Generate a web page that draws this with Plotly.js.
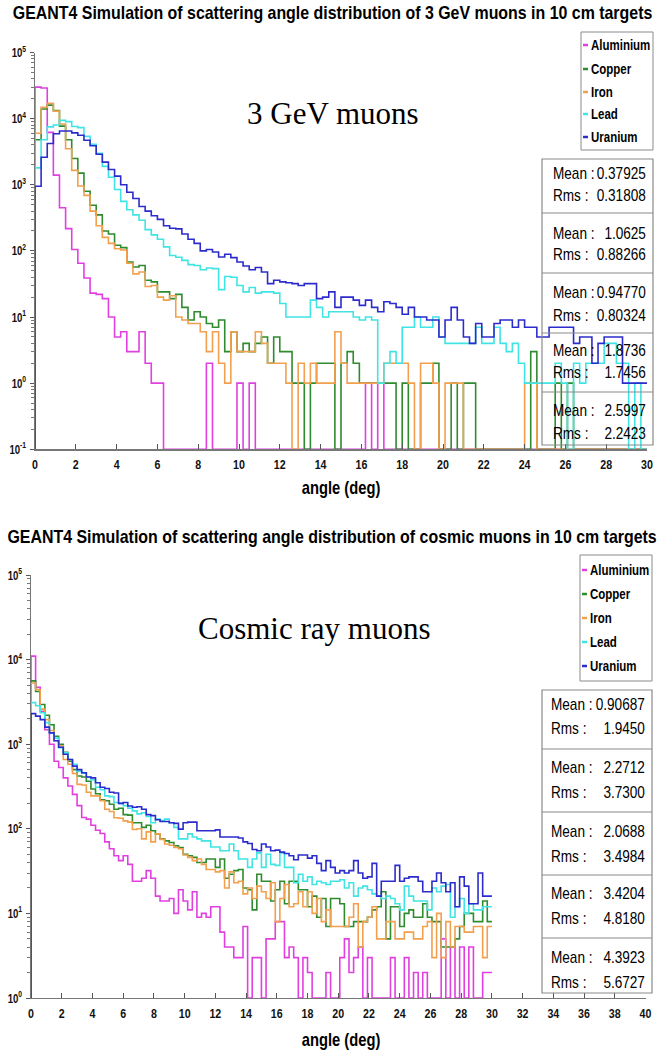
<!DOCTYPE html>
<html>
<head>
<meta charset="utf-8">
<script src="https://cdn.plot.ly/plotly-3.0.1.min.js"></script>
<style>
  html, body { margin: 0; padding: 0; background: #ffffff; }
  #chart { width: 664px; height: 1052px; }
</style>
</head>
<body>
<div id="chart"></div>
<script>
// ---- Histogram data: counts per 0.3 deg bin from 0 to 30 deg ----
const binWidth = 0.3;
const materials = ['Aluminium', 'Copper', 'Iron', 'Lead', 'Uranium'];
const materialColors = ['#e040e0', '#2e8b2e', '#f2a04e', '#40e4e4', '#2c2ccc'];

// 3 GeV muons
const gevAluminium = [
  30000, 29000, 6200, 1400, 450, 217, 105, 65, 39, 23,
  22, 19, 10, 5, 6, 3, 3, 6, 2, 1,
  1, 0, 0, 0, 0, 0, 0, 0, 2, 0,
  0, 0, 0, 1, 0, 1, 0, 0, 0, 0,
  0, 0, 0, 0, 0, 0, 0, 0, 0, 0,
  0, 0, 0, 0, 1, 0, 1, 0, 0, 0,
  0, 0, 0, 0, 0, 0, 0, 0, 0, 0,
  0, 0, 0, 0, 0, 0, 0, 0, 0, 0,
  0, 0, 0, 0, 0, 0, 0, 0, 0, 0,
  0, 0, 0, 0, 0, 0, 0, 0, 0, 0
];
const gevCopper = [
  4800, 14000, 16000, 13200, 7700, 4800, 2500, 1500, 800, 490,
  350, 200, 180, 122, 112, 68, 57, 60, 36, 34,
  24, 24, 19, 22, 14, 9, 12, 10, 8, 7,
  9, 3, 6, 3, 4, 3, 4, 5, 2, 5,
  3, 3, 1, 1, 0, 1, 2, 2, 2, 0,
  2, 3, 2, 1, 1, 1, 1, 1, 1, 0,
  1, 0, 0, 1, 1, 2, 0, 0, 1, 0,
  1, 1, 0, 0, 0, 0, 0, 0, 0, 0,
  0, 3, 0, 0, 0, 1, 0, 1, 0, 0,
  0, 0, 0, 0, 0, 0, 0, 0, 0, 0
];
const gevIron = [
  6000, 14800, 17000, 13000, 8300, 3500, 1650, 960, 690, 400,
  240, 160, 130, 108, 103, 65, 45, 48, 29, 30,
  20, 18, 21, 10, 9, 8, 8, 6, 3, 6,
  2, 1, 6, 3, 3, 3, 6, 4, 2, 2,
  2, 1, 0, 2, 1, 2, 1, 1, 1, 6,
  2, 1, 1, 1, 1, 1, 1, 2, 2, 2,
  2, 1, 0, 2, 2, 1, 0, 1, 1, 1,
  0, 0, 0, 0, 0, 0, 0, 0, 0, 0,
  1, 1, 0, 0, 0, 0, 0, 0, 0, 0,
  0, 0, 0, 0, 0, 0, 0, 0, 0, 0
];
const gevLead = [
  1800, 4800, 7500, 8000, 9400, 9000, 7600, 7300, 5400, 4100,
  3000, 1900, 1300, 850, 560, 420, 350, 290, 210, 175,
  150, 115, 85, 80, 72, 62, 60, 52, 55, 54,
  26, 41, 40, 30, 24, 28, 23, 24, 24, 23,
  16, 10, 10, 10, 10, 18, 14, 10, 12, 12,
  12, 12, 10, 9, 10, 9, 1, 2, 3, 2,
  7, 7, 10, 7, 7, 10, 5, 4, 4, 4,
  4, 4, 7, 4, 4, 7, 4, 3, 4, 2,
  1, 1, 1, 1, 1, 2, 1, 0, 2, 1,
  2, 2, 2, 4, 4, 2, 2, 0, 1, 0
];
const gevUranium = [
  950, 2600, 4200, 5900, 6500, 6500, 6100, 5600, 4700, 3900,
  2900, 2200, 1700, 1350, 1000, 770, 620, 470, 400, 340,
  300, 240, 220, 215, 180, 150, 130, 100, 105, 96,
  81, 89, 79, 68, 59, 52, 56, 48, 32, 36,
  34, 33, 32, 30, 32, 32, 19, 20, 24, 14,
  20, 20, 18, 15, 18, 14, 12, 17, 16, 14,
  11, 14, 10, 10, 9, 9, 5, 9, 14, 9,
  5, 4, 8, 5, 5, 8, 9, 9, 7, 9,
  7, 7, 5, 5, 7, 7, 7, 7, 4, 5,
  5, 2, 4, 5, 5, 5, 1, 1, 1, 1
];
const gevMean = ['0.37925', '1.0625', '0.94770', '1.8736', '2.5997'];
const gevRms = ['0.31808', '0.88266', '0.80324', '1.7456', '2.2423'];

// Cosmic ray muons
const cosmicAluminium = [
  11000, 4700, 2450, 1480, 1000, 630, 530, 400, 320, 255,
  188, 136, 130, 110, 96, 88, 70, 58, 48, 42,
  48, 38, 24, 24, 26, 32, 26, 16, 14, 14,
  15, 10, 19, 14, 11, 18, 9, 10, 9, 12,
  12, 6, 4, 4, 3, 3, 7, 0, 3, 3,
  0, 5, 5, 8, 8, 3, 4, 3, 0, 3,
  2, 0, 0, 0, 2, 0, 0, 3, 5, 2,
  3, 4, 0, 3, 0, 0, 0, 0, 3, 0,
  0, 3, 0, 2, 0, 2, 0, 0, 0, 5,
  0, 4, 0, 4, 0, 4, 0, 0, 2, 2
];
const cosmicCopper = [
  5600, 4200, 2950, 2200, 1700, 1240, 1000, 800, 630, 500,
  420, 410, 365, 295, 260, 220, 215, 195, 170, 175,
  147, 145, 118, 118, 104, 110, 95, 87, 76, 72,
  69, 63, 60, 50, 48, 46, 40, 40, 44, 44,
  35, 44, 26, 29, 32, 33, 20, 19, 11, 29,
  24, 24, 14, 19, 24, 13, 24, 24, 19, 19,
  12, 16, 9, 15, 7, 15, 15, 13, 7, 7,
  8, 8, 8, 9, 11, 12, 18, 5, 12, 12,
  7, 10, 11, 9, 9, 13, 9, 8, 8, 4,
  4, 4, 5, 7, 10, 10, 8, 8, 14, 8
];
const cosmicIron = [
  5300, 4400, 2600, 1950, 1450, 1100, 960, 660, 580, 450,
  335, 330, 270, 245, 245, 215, 170, 160, 135, 133,
  124, 120, 98, 100, 76, 92, 70, 87, 75, 66,
  64, 60, 58, 49, 46, 42, 44, 38, 33, 33,
  31, 32, 20, 31, 23, 24, 17, 20, 15, 21,
  18, 15, 23, 8, 15, 22, 12, 13, 18, 12,
  18, 10, 15, 8, 11, 7, 7, 7, 7, 9,
  13, 4, 8, 9, 12, 5, 5, 8, 8, 5,
  5, 6, 6, 5, 5, 7, 8, 3, 10, 3,
  8, 4, 7, 7, 6, 6, 7, 7, 3, 7
];
const cosmicLead = [
  3100, 2850, 2350, 1800, 1360, 1180, 910, 790, 660, 580,
  480, 455, 410, 380, 310, 290, 245, 240, 205, 200,
  188, 175, 163, 150, 155, 140, 118, 130, 125, 130,
  118, 104, 76, 76, 87, 80, 76, 72, 72, 61,
  61, 55, 55, 66, 55, 44, 44, 35, 44, 52,
  35, 50, 38, 37, 52, 35, 35, 23, 29, 24,
  27, 22, 24, 23, 22, 24, 24, 25, 20, 23,
  16, 20, 21, 19, 17, 16, 15, 16, 15, 13,
  11, 21, 16, 14, 14, 14, 11, 20, 18, 21,
  22, 9, 12, 15, 10, 13, 11, 11, 12, 12
];
const cosmicUranium = [
  2300, 2150, 1950, 1590, 1360, 1100, 920, 760, 660, 550,
  500, 460, 410, 400, 350, 310, 300, 270, 265, 200,
  205, 186, 180, 182, 170, 147, 143, 128, 122, 122,
  118, 116, 99, 118, 120, 120, 95, 95, 95, 95,
  97, 80, 80, 80, 80, 78, 70, 67, 57, 55,
  66, 61, 55, 56, 53, 51, 48, 43, 49, 49,
  45, 48, 39, 32, 42, 35, 30, 32, 30, 32,
  42, 30, 26, 27, 39, 16, 24, 24, 24, 37,
  24, 26, 27, 27, 24, 18, 18, 24, 30, 23,
  18, 23, 12, 27, 21, 13, 13, 30, 16, 16
];
const cosmicMean = ['0.90687', '2.2712', '2.0688', '3.4204', '4.3923'];
const cosmicRms = ['1.9450', '3.7300', '3.4984', '4.8180', '5.6727'];

// Titles and tick labels
const gevTitle = 'GEANT4 Simulation of scattering angle distribution of 3 GeV muons in 10 cm targets';
const cosmicTitle = 'GEANT4 Simulation of scattering angle distribution of cosmic muons in 10 cm targets';
const gevLabel = '3 GeV muons';
const cosmicLabel = 'Cosmic ray muons';
const xAxisTitle = 'angle (deg)';
const gevDecades = [-1, 0, 1, 2, 3, 4, 5];
const cosmicDecades = [0, 1, 2, 3, 4, 5];

// ---- Page geometry (pixels) ----
const W = 664, H = 1052;
const px = x => x / W;
const py = y => 1 - y / H;

const SANS = "'Liberation Sans', Arial, sans-serif";
const SERIF = "'Liberation Serif', 'Times New Roman', serif";

// Horizontal condensing applied to rendered text (narrow lettering)
const STRETCH = {title: 0.885, axisTitle: 0.82, legend: 0.82, stats: 0.85, label: 1, xTicks: 0.82, yTicks: 0.74};

const panels = [
  {
    counts: [gevAluminium, gevCopper, gevIron, gevLead, gevUranium],
    mean: gevMean, rms: gevRms, title: gevTitle, label: gevLabel,
    decades: gevDecades, xMax: 30, floor: 0.1,
    xa: 'x', ya: 'y',
    plot: {left: 35, right: 647, top: 52.5, bottom: 449.3},
    titleY: 13, labelPos: [333, 114], axisTitleY: 488,
    legendBox: {left: 581, right: 653, top: 32, bottom: 150},
    legendY: [45, 69, 92, 114, 137],
    statsBox: {left: 542, right: 653},
    statsLines: [159, 213, 273, 333, 392, 445],
    statsText: [[173, 195], [233, 255], [292, 315], [350, 373], [410, 433]],
    statsX: [551, 648]
  },
  {
    counts: [cosmicAluminium, cosmicCopper, cosmicIron, cosmicLead, cosmicUranium],
    mean: cosmicMean, rms: cosmicRms, title: cosmicTitle, label: cosmicLabel,
    decades: cosmicDecades, xMax: 40, floor: 1,
    xa: 'x2', ya: 'y2',
    plot: {left: 31, right: 645.5, top: 575, bottom: 998},
    titleY: 537, labelPos: [314, 628], axisTitleY: 1040,
    legendBox: {left: 580, right: 652, top: 555, bottom: 681},
    legendY: [570, 594, 618, 642, 666],
    statsBox: {left: 542, right: 652},
    statsLines: [690, 749, 812, 875, 938, 993],
    statsText: [[704, 728], [767, 792], [831, 856], [893, 918], [957, 982]],
    statsX: [549, 647]
  }
];

// Step-line histogram: rises from the axis floor at x=0, flat across each bin
function stepTrace(counts, floor, color, xa, ya, name) {
  const x = [0], y = [floor];
  counts.forEach((c, i) => {
    x.push(+(i * binWidth).toFixed(4));
    y.push(Math.max(c, floor));
  });
  x.push(+(counts.length * binWidth).toFixed(4));
  y.push(Math.max(counts[counts.length - 1], floor));
  return {
    type: 'scatter', mode: 'lines', x, y, xaxis: xa, yaxis: ya, name,
    line: {shape: 'hv', color, width: 1.6},
    hoverinfo: 'skip', showlegend: false
  };
}

const traces = [];
const shapes = [];
const annotations = [];
const annotationStretch = [];
function addText(opts, stretch) {
  annotations.push(Object.assign({xref: 'paper', yref: 'paper', showarrow: false, yanchor: 'middle'}, opts,
    {align: opts.xanchor}));
  annotationStretch.push(stretch);
}

const layout = {
  width: W, height: H,
  margin: {l: 0, r: 0, t: 0, b: 0},
  paper_bgcolor: '#ffffff', plot_bgcolor: 'rgba(0,0,0,0)',
  showlegend: false,
  font: {family: SANS, color: '#000000'}
};

panels.forEach((p, k) => {
  p.counts.forEach((c, i) => traces.push(stepTrace(c, p.floor, materialColors[i], p.xa, p.ya, materials[i])));

  const xKey = k === 0 ? 'xaxis' : 'xaxis2';
  const yKey = k === 0 ? 'yaxis' : 'yaxis2';
  layout[xKey] = {
    domain: [px(p.plot.left), px(p.plot.right)],
    anchor: p.ya, range: [0, p.xMax],
    tickmode: 'linear', tick0: 0, dtick: 2,
    ticks: 'inside', ticklen: 5, tickcolor: '#555555', tickwidth: 1,
    showline: true, linecolor: '#777777', linewidth: 1.3,
    showgrid: false, zeroline: false, fixedrange: true,
    tickfont: {family: SANS, size: 13, weight: 700, color: '#111111'},
    ticklabelstandoff: 3
  };
  layout[yKey] = {
    domain: [py(p.plot.bottom), py(p.plot.top)],
    anchor: p.xa, type: 'log',
    range: [p.decades[0], p.decades[p.decades.length - 1]],
    tickmode: 'array',
    tickvals: p.decades.map(d => Math.pow(10, d)),
    ticktext: p.decades.map(d => '10<sup>' + d + '</sup>'),
    ticks: 'outside', ticklen: 4, tickcolor: '#555555',
    minor: {ticks: 'outside', ticklen: 3, tickcolor: '#777777', dtick: 'D1', showgrid: false},
    showline: true, linecolor: '#777777', linewidth: 1.3,
    showgrid: false, zeroline: false, fixedrange: true,
    tickfont: {family: SANS, size: 13, weight: 700, color: '#111111'},
    ticklabelstandoff: 1
  };

  // Headline, inline label and axis title
  addText({x: px(332), y: py(p.titleY), xanchor: 'center', text: p.title,
    font: {family: SANS, size: 18, weight: 700, color: '#000000'}}, STRETCH.title);
  addText({x: px(p.labelPos[0]), y: py(p.labelPos[1]), xanchor: 'center', text: p.label,
    font: {family: SERIF, size: 31, color: '#000000'}}, STRETCH.label);
  addText({x: px(341), y: py(p.axisTitleY), xanchor: 'center', text: xAxisTitle,
    font: {family: SANS, size: 18, weight: 700, color: '#000000'}}, STRETCH.axisTitle);

  // Legend box
  const lb = p.legendBox;
  shapes.push({type: 'rect', xref: 'paper', yref: 'paper',
    x0: px(lb.left), x1: px(lb.right), y0: py(lb.bottom), y1: py(lb.top),
    line: {color: '#8a8a8a', width: 1}, fillcolor: '#ffffff', layer: 'above'});
  materials.forEach((m, i) => {
    const yy = p.legendY[i];
    shapes.push({type: 'line', xref: 'paper', yref: 'paper',
      x0: px(lb.left + 2), x1: px(lb.left + 7), y0: py(yy), y1: py(yy),
      line: {color: materialColors[i], width: 2.5}, layer: 'above'});
    addText({x: px(lb.left + 8), y: py(yy), xanchor: 'left', text: m,
      font: {family: SANS, size: 14, weight: 700, color: '#000000'}}, STRETCH.legend);
  });

  // Statistics boxes (one per material, stacked)
  const sb = p.statsBox;
  shapes.push({type: 'rect', xref: 'paper', yref: 'paper',
    x0: px(sb.left), x1: px(sb.right),
    y0: py(p.statsLines[p.statsLines.length - 1]), y1: py(p.statsLines[0]),
    line: {color: '#8a8a8a', width: 1.2}, fillcolor: 'rgba(0,0,0,0)', layer: 'above'});
  p.statsLines.slice(1, -1).forEach(yy => {
    shapes.push({type: 'line', xref: 'paper', yref: 'paper',
      x0: px(sb.left), x1: px(sb.right), y0: py(yy), y1: py(yy),
      line: {color: '#8a8a8a', width: 1.2}, layer: 'above'});
  });
  materials.forEach((m, i) => {
    const [ym, yr] = p.statsText[i];
    [['Mean :', p.mean[i], ym], ['Rms :', p.rms[i], yr]].forEach(([lab, val, yy]) => {
      addText({x: px(p.statsX[0]), y: py(yy), xanchor: 'left', text: lab,
        font: {family: SANS, size: 16, color: '#000000'}}, STRETCH.stats);
      addText({x: px(p.statsX[1]), y: py(yy), xanchor: 'right', text: val,
        font: {family: SANS, size: 16, color: '#000000'}}, STRETCH.stats);
    });
  });
});

layout.shapes = shapes;
layout.annotations = annotations;

// Scale a text element horizontally about its anchor point
function condense(el, f) {
  if (!el || f === 1) return;
  const x = parseFloat(el.getAttribute('x')) || 0;
  const prev = el.getAttribute('transform') || '';
  el.setAttribute('transform', prev + ' translate(' + x + ',0) scale(' + f + ',1) translate(' + (-x) + ',0)');
}

Plotly.newPlot('chart', traces, layout, {displayModeBar: false, staticPlot: true}).then(gd => {
  gd.querySelectorAll('.annotation').forEach(g => {
    const idx = +g.getAttribute('data-index');
    condense(g.querySelector('text.annotation-text'), annotationStretch[idx]);
  });
  gd.querySelectorAll('.xtick text, .x2tick text').forEach(t => condense(t, STRETCH.xTicks));
  gd.querySelectorAll('.ytick text, .y2tick text').forEach(t => condense(t, STRETCH.yTicks));
});
</script>
</body>
</html>
